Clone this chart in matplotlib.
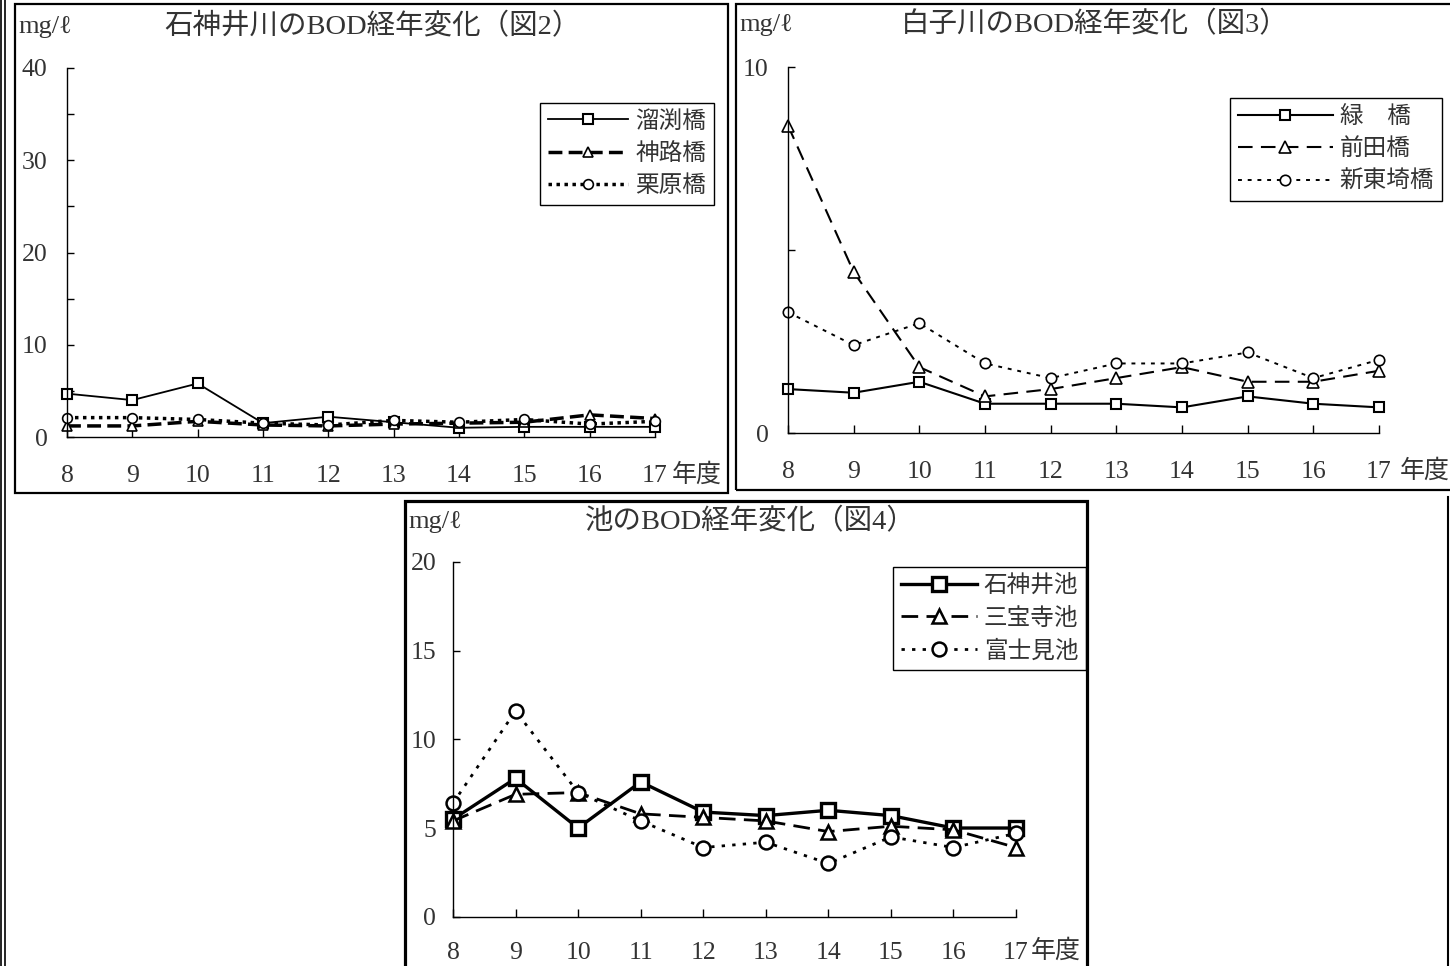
import numpy as np
import matplotlib
matplotlib.use("Agg")
import matplotlib.pyplot as plt
from matplotlib.patches import Rectangle
from matplotlib.lines import Line2D
from matplotlib.ticker import MultipleLocator

plt.rcParams['font.family'] = ['Liberation Serif', 'DejaVu Serif', 'Noto Sans CJK JP']
TXT = '#333333'

years = [8, 9, 10, 11, 12, 13, 14, 15, 16, 17]

# 図2 石神井川
shakujii_names = ['溜渕橋', '神路橋', '栗原橋']
tamefuchi = [4.7, 4.0, 5.8, 1.5, 2.2, 1.6, 1.0, 1.1, 1.1, 1.1]
kamiji = [1.2, 1.2, 1.7, 1.3, 1.2, 1.4, 1.5, 1.6, 2.4, 2.0]
kurihara = [2.1, 2.1, 1.9, 1.5, 1.3, 1.8, 1.6, 1.9, 1.4, 1.7]

# 図3 白子川
shirako_names = ['緑\u3000橋', '前田橋', '新東埼橋']
midori = [1.2, 1.1, 1.4, 0.8, 0.8, 0.8, 0.7, 1.0, 0.8, 0.7]
maeda = [8.4, 4.4, 1.8, 1.0, 1.2, 1.5, 1.8, 1.4, 1.4, 1.7]
shintozaki = [3.3, 2.4, 3.0, 1.9, 1.5, 1.9, 1.9, 2.2, 1.5, 2.0]

# 図4 池
pond_names = ['石神井池', '三宝寺池', '富士見池']
shakujii_ike = [5.5, 7.8, 5.0, 7.6, 5.9, 5.7, 6.0, 5.7, 5.0, 5.0]
sanpoji_ike = [5.4, 6.9, 7.0, 5.8, 5.6, 5.4, 4.8, 5.1, 4.9, 3.9]
fujimi_ike = [6.4, 11.6, 7.0, 5.4, 3.9, 4.2, 3.0, 4.5, 3.9, 4.7]

W, H = 1450, 966
fig = plt.figure(figsize=(W / 100, H / 100), dpi=100)


def fx(px):
    return px / W


def fy(py):
    return 1 - py / H


def box(x0, y0, x1, y1, lw):
    fig.add_artist(Rectangle((fx(x0), fy(y1)), fx(x1) - fx(x0), fy(y0) - fy(y1),
                             transform=fig.transFigure, fill=False, ec='black', lw=lw))


def vline(x, y0, y1, lw):
    fig.add_artist(Line2D([fx(x), fx(x)], [fy(y0), fy(y1)], transform=fig.transFigure,
                          color='black', lw=lw))


# page borders
vline(1, 0, H, 1.2)
vline(5, 0, H, 1.2)
vline(1448, 497, H, 1.5)
box(15, 4, 728, 493, 1.6)
box(736, 4, 1460, 490, 1.6)
box(405, 501, 1087, 980, 2.3)


def make_axes(x0, x1, y0, y1, ymax, major, minor, xpad, ypad):
    ax = fig.add_axes([fx(x0), fy(y0), fx(x1) - fx(x0), fy(y1) - fy(y0)])
    ax.set_xlim(8, 17)
    ax.set_ylim(0, ymax)
    for s in ['top', 'right']:
        ax.spines[s].set_visible(False)
    for s in ['left', 'bottom']:
        ax.spines[s].set_linewidth(1.0)
    ax.set_xticks(years)
    ax.set_xticklabels([str(y) for y in years])
    ax.yaxis.set_major_locator(MultipleLocator(major))
    ax.yaxis.set_minor_locator(MultipleLocator(minor))
    ax.tick_params(axis='y', which='both', direction='in', length=5, width=1,
                   pad=ypad, labelsize=18.5, labelcolor=TXT)
    ax.tick_params(axis='x', direction='in', length=6, width=1,
                   pad=xpad, labelsize=18.5, labelcolor=TXT)
    ax.patch.set_alpha(0)
    return ax


def add_labels(ax, title, tx, ty, ux, uy, nen_dx, nen_dy):
    fig.text(fx(tx), fy(ty), title, ha='center', va='center', fontsize=20.5, color=TXT)
    fig.text(fx(ux), fy(uy), 'mg/ℓ', ha='left', va='center', fontsize=19, color=TXT)
    ax.annotate('年度', xy=(17, 0), xycoords='data', xytext=(nen_dx, nen_dy),
                textcoords='offset pixels', ha='left', va='center', fontsize=18,
                color=TXT, annotation_clip=False)


def add_legend(ax, x_right, y_top, hl=3.4):
    leg = ax.legend(loc='upper right', bbox_to_anchor=(fx(x_right), fy(y_top)),
                    bbox_transform=fig.transFigure, fontsize=17, frameon=True,
                    fancybox=False, framealpha=1, edgecolor='black',
                    handlelength=hl, handletextpad=0.3, labelspacing=0.45,
                    borderpad=0.33, borderaxespad=0)
    leg.get_frame().set_linewidth(1.0)
    for t in leg.get_texts():
        t.set_color(TXT)


# ---- 図2 ----
ax1 = make_axes(67, 655, 437, 68, 40, 10, 5, 20, 14)
ax1.plot(years, tamefuchi, color='black', lw=1.3, marker='s', ms=7, mfc='white',
         mec='black', mew=1.5, clip_on=False, label=shakujii_names[0])
ax1.plot(years, kamiji, color='black', lw=2.5, ls=(0, (4, 1.8)), marker='^', ms=7,
         mfc='white', mec='black', mew=1.2, clip_on=False, label=shakujii_names[1])
ax1.plot(years, kurihara, color='black', lw=2.5, ls=(0, (1, 1.3)), marker='o', ms=7,
         mfc='white', mec='black', mew=1.2, clip_on=False, label=shakujii_names[2])
add_labels(ax1, '石神井川のBOD経年変化（図2）', 372, 27, 18, 27, 17, -38)
add_legend(ax1, 714, 103)

# ---- 図3 ----
ax2 = make_axes(788, 1379, 433, 67, 10, 10, 5, 20, 14)
ax2.plot(years, midori, color='black', lw=1.5, marker='s', ms=7, mfc='white',
         mec='black', mew=1.5, clip_on=False, label=shirako_names[0])
ax2.plot(years, maeda, color='black', lw=1.5, ls=(0, (7, 4)), marker='^', ms=8,
         mfc='white', mec='black', mew=1.2, clip_on=False, label=shirako_names[1])
ax2.plot(years, shintozaki, color='black', lw=1.4, ls=(0, (2, 3)), marker='o', ms=7.5,
         mfc='white', mec='black', mew=1.2, clip_on=False, label=shirako_names[2])
add_labels(ax2, '白子川のBOD経年変化（図3）', 1095, 25, 739, 25, 21, -38)
add_legend(ax2, 1442, 98, hl=4.0)

# ---- 図4 ----
ax3 = make_axes(453, 1016, 916.7, 562, 20, 5, 5, 18, 12)
ax3.plot(years, shakujii_ike, color='black', lw=2.4, marker='s', ms=9.5, mfc='white',
         mec='black', mew=2.4, clip_on=False, label=pond_names[0])
ax3.plot(years, sanpoji_ike, color='black', lw=2.0, ls=(0, (6, 3)), marker='^', ms=9.5,
         mfc='white', mec='black', mew=1.8, clip_on=False, label=pond_names[1])
ax3.plot(years, fujimi_ike, color='black', lw=2.0, ls=(0, (1.2, 2.6)), marker='o', ms=10,
         mfc='white', mec='black', mew=1.8, clip_on=False, label=pond_names[2])
add_labels(ax3, '池のBOD経年変化（図4）', 750, 522, 408, 522, 15, -34)
add_legend(ax3, 1086, 567, hl=3.2)

fig.savefig('out.png', dpi=100, facecolor='white')
